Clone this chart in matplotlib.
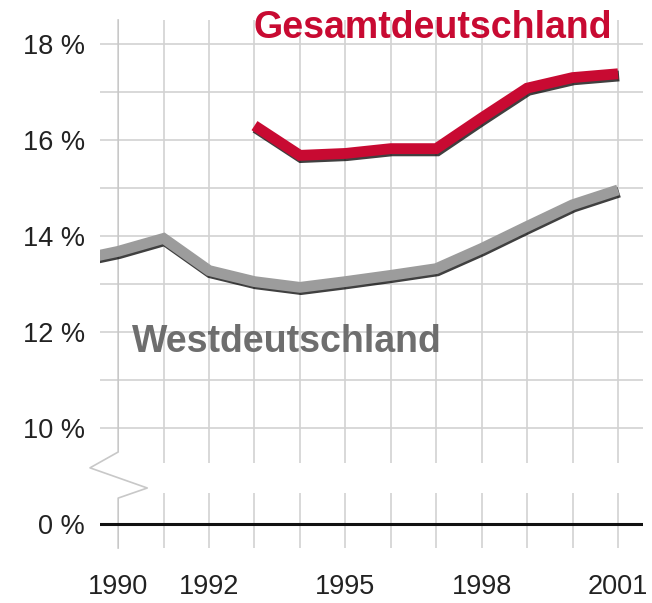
import matplotlib
matplotlib.use('Agg')
import matplotlib.pyplot as plt
import matplotlib.patheffects as pe

plt.rcParams['font.family'] = ['Liberation Sans', 'DejaVu Sans']

# Daten (Prozent)
JAHRE_WEST = [1989, 1990, 1991, 1992, 1993, 1994, 1995, 1996, 1997, 1998, 1999, 2000, 2001]
WEST = [13.48, 13.68, 13.95, 13.28, 13.05, 12.93, 13.05, 13.18, 13.32, 13.74, 14.2, 14.65, 14.96]
JAHRE_GESAMT = [1993, 1994, 1995, 1996, 1997, 1998, 1999, 2000, 2001]
GESAMT = [16.3, 15.68, 15.72, 15.82, 15.82, 16.46, 17.08, 17.3, 17.38]

GITTER_JAHRE = list(range(1990, 2002))
X_TICKS = [1990, 1992, 1995, 1998, 2001]
Y_WERTE = [10, 11, 12, 13, 14, 15, 16, 17, 18]
Y_TICKS = [10, 12, 14, 16, 18]
NULL_POS = 8  # Position der 0-%-Linie nach dem Achsenbruch

ROT = '#c80a32'
GRAU = '#9c9c9c'
GRAU_TEXT = '#6e6e6e'
GITTER = '#d2d2d2'

fig = plt.figure(figsize=(6.52, 6.03), dpi=100)
ax = fig.add_axes([100 / 652, 1 - 548 / 603, 543 / 652, 528 / 603])
ax.set_xlim(1989.6, 2001.55)
ax.set_ylim(7.5, 18.5)

# Gitter mit Achsenbruch
ax.hlines(Y_WERTE, 1989.6, 2001.55, color=GITTER, linewidth=1.2, zorder=1)
for jahr in GITTER_JAHRE:
    if jahr == 1990:
        continue
    ax.vlines(jahr, 9.27, 18.5, color=GITTER, linewidth=1.2, zorder=1)
    ax.vlines(jahr, 7.5, 8.65, color=GITTER, linewidth=1.2, zorder=1)
ax.plot([1990, 1990, 1989.38, 1990.64, 1990, 1990],
        [18.5, 9.5, 9.17, 8.75, 8.54, 7.5],
        color='#c8c8c8', linewidth=1.2, zorder=1, clip_on=False)

ax.axhline(NULL_POS, color='#111111', linewidth=2.2, zorder=2)

schatten = [pe.SimpleLineShadow(offset=(0.8, -1.6), shadow_color='black', alpha=0.75),
            pe.Normal()]
ax.plot(JAHRE_WEST, WEST, color=GRAU, linewidth=7.8, solid_capstyle='butt',
        solid_joinstyle='miter', path_effects=schatten, zorder=3)
ax.plot(JAHRE_GESAMT, GESAMT, color=ROT, linewidth=7.8, solid_capstyle='butt',
        solid_joinstyle='miter', path_effects=schatten, zorder=3)

ax.text(1992.97, 18.12, 'Gesamtdeutschland', color=ROT, fontsize=27,
        fontweight='bold', ha='left', va='baseline')
ax.text(1990.31, 11.58, 'Westdeutschland', color=GRAU_TEXT, fontsize=27,
        fontweight='bold', ha='left', va='baseline')

ax.set_xticks(X_TICKS)
ax.set_xticklabels([str(j) for j in X_TICKS])
ax.set_yticks([NULL_POS] + Y_TICKS)
ax.set_yticklabels(['0 %'] + [f'{v} %' for v in Y_TICKS])
ax.tick_params(axis='x', length=0, pad=19, labelsize=19.5, labelcolor='#222222')
ax.tick_params(axis='y', length=0, pad=11, labelsize=19.5, labelcolor='#222222')
for s in ax.spines.values():
    s.set_visible(False)

fig.savefig('out.png', dpi=100)
plt.close(fig)
